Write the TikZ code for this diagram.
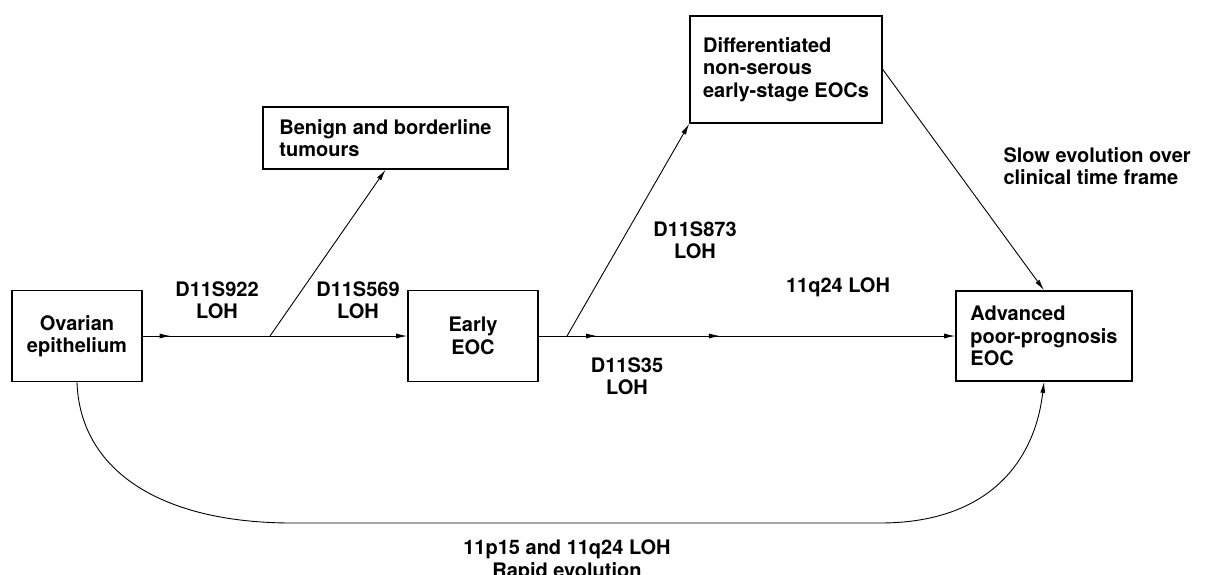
\documentclass[tikz,border=0pt]{standalone}
\usepackage{fontspec}
\setmainfont{TeX Gyre Heros}
\usetikzlibrary{arrows.meta, decorations.markings}

\begin{document}
\begin{tikzpicture}[x=1pt, y=-1pt, font=\fontsize{20}{22.5}\selectfont\bfseries,
	box/.style={draw, line width=1.6pt, inner sep=0pt},
	link/.style={line width=0.9pt},
	tip/.style={-{Latex[length=11pt, width=5pt]}},
	midtip/.style={postaction={decorate, decoration={markings,
		mark=at position #1 with {\arrow{Latex[length=11pt, width=5pt]}}}}}]
		\useasboundingbox (0,0) rectangle (1207,574);
		\node[box, minimum width=130, minimum height=91, align=center] (ovar) at (77,336) {Ovarian\\epithelium};
		\node[box, minimum width=130, minimum height=91, align=center] (early) at (473,336) {Early\\EOC};
		\node[box, minimum width=245, minimum height=62, align=left] (benign) at (385.5,138) {Benign and borderline\\tumours};
		\node[box, minimum width=192, minimum height=107, align=left] (diff) at (786,69.5) {Differentiated\\non-serous\\early-stage EOCs};
		\node[box, minimum width=176, minimum height=90, align=left] (adv) at (1044,336) {Advanced\\poor-prognosis\\EOC};
		\coordinate (fork1) at (270,336);
		\coordinate (fork2) at (567,336);
		\coordinate (low1) at (292,523);
		\coordinate (low2) at (880,523);
		\draw[link, tip, midtip=0.105] (ovar.east) -- (early.west);
		\draw[link, tip] (fork1) -- (benign.south);
		\draw[link, tip, midtip=0.14, midtip=0.435] (early.east) -- (adv.west);
		\draw[link, tip] (fork2) -- (diff.south west);
		\draw[link, tip] (diff.east) -- (adv.north);
		\draw[link, tip] (ovar.south) .. controls (80,470) and (160,523) .. (low1) -- (low2)
		      .. controls (990,523) and (1035,460) .. (adv.south);
		\node[align=center] (l922) at (217,300) {D11S922\\LOH};
		\node[align=center] (l569) at (358,300) {D11S569\\LOH};
		\node[align=center] (l873) at (695,240) {D11S873\\LOH};
		\node[align=center] (l35) at (627,376) {D11S35\\LOH};
		\node (lq24) at (838,287) {11q24 LOH};
		\node[align=left, anchor=west] (lslow) at (1000,166) {Slow evolution over\\clinical time frame};
		\node[align=center] (lrapid) at (567,561) {11p15 and 11q24 LOH\\Rapid evolution};
	\end{tikzpicture}
\end{document}
